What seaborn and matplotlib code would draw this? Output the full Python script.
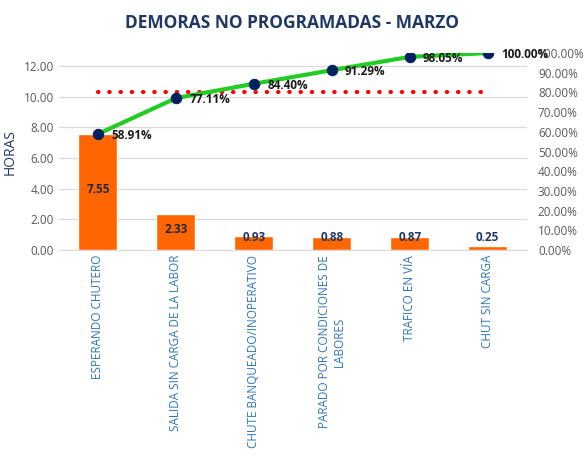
import matplotlib
matplotlib.use("Agg")
import matplotlib.pyplot as plt
import seaborn as sns
import pandas as pd

# Datos
categorias = ["ESPERANDO CHUTERO", "SALIDA SIN CARGA DE LA LABOR",
              "CHUTE BANQUEADO/INOPERATIVO", "PARADO POR CONDICIONES DE\nLABORES",
              "TRAFICO EN VÍA", "CHUT SIN CARGA"]
horas = [7.55, 2.33, 0.93, 0.88, 0.87, 0.25]
acumulado = [0.5891, 0.7711, 0.8440, 0.9129, 0.9805, 1.0]
meta = [0.80] * len(categorias)

df = pd.DataFrame({"Categoria": categorias, "Horas": horas,
                   "Acumulado": acumulado, "Meta": meta})

sns.set_style("white")
plt.rcParams["font.family"] = ["Open Sans", "DejaVu Sans"]

fig = plt.figure(figsize=(5.84, 4.59), dpi=100)
ax = fig.add_axes([0.101, 0.455, 0.801, 0.4295])

sns.barplot(data=df, x="Categoria", y="Horas", color="#FF6600", width=0.5,
            saturation=1, ax=ax)
ax.set_ylim(0, 12.85)
ax.set_yticks([0, 2, 4, 6, 8, 10, 12])
ax.set_yticklabels([f"{v:.2f}" for v in ax.get_yticks()], color="#595959", fontsize=8.5)
ax.yaxis.grid(True, color="#D9D9D9", linewidth=0.9)
ax.set_axisbelow(True)
ax.set_xlim(-0.5, len(categorias) - 0.5)
ax.set_xlabel("")
ax.set_ylabel("HORAS", color="#1F3864", fontsize=10)
ax.yaxis.set_label_coords(-0.088, 0.5)
ax.tick_params(axis="both", length=0)
ax.set_xticks(range(len(categorias)))
ax.set_xticklabels(categorias, rotation=90, color="#2E75B6", fontsize=8.5,
                   ha="center", va="top", multialignment="center")
for s in ax.spines.values():
    s.set_visible(False)
ax.spines["bottom"].set_visible(True)
ax.spines["bottom"].set_color("#D9D9D9")

for i, v in enumerate(horas):
    if v > 2:
        y = v / 2 + 0.15
    else:
        y = max(v - 0.35, 0.85)
    ax.text(i, y, f"{v:.2f}", ha="center", va="center", fontsize=8.5,
            fontweight="bold", color="#1F2A44" if v > 2 else "#1F3864")

ax2 = ax.twinx()
sns.lineplot(data=df, x="Categoria", y="Meta", ax=ax2, color="#FF0000",
             linestyle=(0, (0.1, 2.6)), linewidth=3.0, dash_capstyle="round", zorder=2)
sns.lineplot(data=df, x="Categoria", y="Acumulado", ax=ax2, color="#22CC22",
             linewidth=3.0, marker="o", markersize=7.5, markerfacecolor="#002060",
             markeredgecolor="#002060", zorder=5)
ax2.set_ylim(0, 1.0)
ax2.set_yticks([i / 10 for i in range(11)])
ax2.set_yticklabels([f"{t * 100:.2f}%" for t in ax2.get_yticks()], color="#595959", fontsize=8.5)
ax2.tick_params(axis="y", length=0, pad=8)
ax2.set_ylabel("")
ax2.set_xlabel("")
for s in ax2.spines.values():
    s.set_visible(False)

for i, p in enumerate(acumulado):
    ax2.text(i + 0.17, p - 0.008, f"{p * 100:.2f}%", ha="left", va="center",
             fontsize=8.5, fontweight="bold", color="#1A1A1A", zorder=6)

fig.text(0.5, 0.95, "DEMORAS NO PROGRAMADAS - MARZO", ha="center", va="center",
         fontsize=12.5, fontweight="bold", color="#1F3864")

fig.savefig("out.png", dpi=100)
